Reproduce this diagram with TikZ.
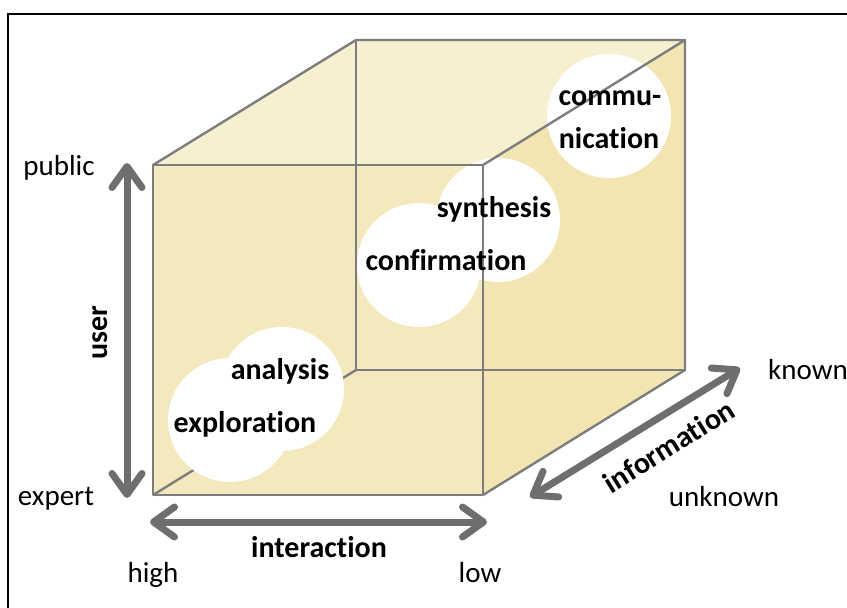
\documentclass[tikz,border=0pt]{standalone}
\usepackage{fontspec}
\setmainfont{Carlito}[Ligatures=NoCommon]
\usetikzlibrary{arrows.meta}
\definecolor{topface}{RGB}{246,240,208}
\definecolor{frontface}{RGB}{243,233,189}
\definecolor{rightface}{RGB}{243,229,177}
\definecolor{edgegray}{RGB}{125,125,125}
\definecolor{arrowgray}{RGB}{110,110,110}
\tikzset{
  edge/.style={draw=edgegray, line width=2.4pt, line join=round},
  blob/.style={circle, fill=white, minimum size=124pt, inner sep=0pt},
  lbl/.style={font=\fontsize{29}{33}\selectfont, inner sep=0pt, anchor=base},
  blbl/.style={font=\fontsize{30}{34}\selectfont\bfseries, inner sep=0pt, anchor=base},
  axis/.style={draw=arrowgray, line width=7pt,
    {Straight Barb[length=21pt, width=30pt, line width=7pt, round]}-{Straight Barb[length=21pt, width=30pt, line width=7pt, round]}},
  frameline/.style={draw=black, line width=2pt}
}
\begin{document}
\begin{tikzpicture}[x=1pt, y=-1pt]
\useasboundingbox (0,0) rectangle (847,608);
% frame
\coordinate (fa) at (8,608);
\coordinate (fb) at (8,14);
\coordinate (fc) at (847,14);
\draw[frameline] (fa) -- (fb) -- (fc);
% cube corners
\coordinate (FTL) at (153,165);
\coordinate (FTR) at (483,165);
\coordinate (FBR) at (483,495);
\coordinate (FBL) at (153,495);
\coordinate (BTL) at (356,40);
\coordinate (BTR) at (685,40);
\coordinate (BBR) at (685,370);
\coordinate (BBL) at (356,370);
% faces
\fill[topface] (FTL) -- (BTL) -- (BTR) -- (FTR) -- cycle;
\fill[rightface] (FTR) -- (BTR) -- (BBR) -- (FBR) -- cycle;
\fill[frontface] (FTL) -- (FTR) -- (FBR) -- (FBL) -- cycle;
% hidden edges
\draw[edge] (BTL) -- (BBL) -- (BBR);
\draw[edge] (BBL) -- (FBL);
% blobs
\node[blob] (bexpl) at (230,420) {};
\node[blob] (banal) at (282,389) {};
\node[blob] (bconf) at (419,265) {};
\node[blob] (bsynt) at (498,220) {};
\node[blob] (bcomm) at (609,116) {};
% visible edges
\draw[edge] (FTL) -- (FTR) -- (FBR) -- (FBL) -- cycle;
\draw[edge] (FTL) -- (BTL) -- (BTR) -- (FTR);
\draw[edge] (BTR) -- (BBR) -- (FBR);
% blob texts
\node[blbl] (texpl) at (245,432) {exploration};
\node[blbl] (tanal) at (280,379) {analysis};
\node[blbl] (tconf) at (446,270) {confirmation};
\node[blbl] (tsynt) at (494,217) {synthesis};
\node[blbl] (tcomm1) at (610,105) {commu-};
\node[blbl] (tcomm2) at (609,148) {nication};
% axes
\coordinate (ua) at (127,163);
\coordinate (ub) at (127,498);
\coordinate (ia) at (150,522);
\coordinate (ib) at (487,522);
\coordinate (na) at (530,497);
\coordinate (nb) at (740,368);
\draw[axis] (ua) -- (ub);
\draw[axis] (ia) -- (ib);
\draw[axis] (na) -- (nb);
% axis labels
\node[blbl, anchor=center, rotate=90] (tuser) at (100,333) {user};
\node[blbl] (tinter) at (319,557) {interaction};
\node[blbl, anchor=center, rotate=32] (tinfo) at (669,446) {information};
\node[lbl] (tpub) at (59,175) {public};
\node[lbl] (texp) at (56,505) {expert};
\node[lbl] (thigh) at (153,582) {high};
\node[lbl] (tlow) at (480,582) {low};
\node[lbl, anchor=base west] (tknown) at (768,379) {known};
\node[lbl] (tunk) at (724,506) {unknown};
\end{tikzpicture}
\end{document}
